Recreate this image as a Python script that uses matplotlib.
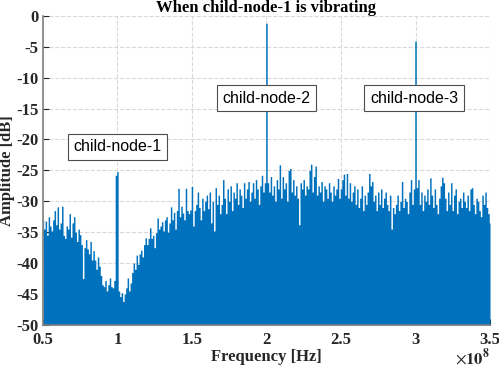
import numpy as np
import matplotlib
matplotlib.use('Agg')
import matplotlib.pyplot as plt

# 频率 (x 1e8 Hz), 步长 0.01
freq = np.round(np.arange(0.50, 3.505, 0.01), 2)

# 幅度 [dB]
amp = [
    -33.0, -34.5, -33.2, -35.5, -32.5, -34.0, -34.8, -33.0, -31.5, -33.8,
    -30.9, -34.5, -33.5, -30.8, -35.5, -36.0, -34.0, -34.5, -32.0, -35.8,
    -33.5, -32.5, -35.0, -36.5, -34.5, -35.4, -37.0, -42.5, -37.5, -36.2,
    -37.7, -38.5, -36.5, -39.5, -38.0, -39.5, -41.0, -39.0, -40.5, -42.0,
    -43.5, -43.8, -42.8, -44.5, -43.5, -42.4, -43.8, -44.0, -42.8, -25.8,
    -25.2, -44.5, -45.4, -44.8, -46.2, -45.0, -44.0, -42.4, -44.5, -43.2,
    -41.5, -40.0, -41.0, -38.7, -40.2, -38.5, -37.9, -39.0, -37.0, -35.9,
    -37.0, -36.0, -34.3, -36.0, -35.5, -37.5, -35.1, -32.7, -34.5, -34.0,
    -33.3, -34.8, -33.0, -32.5, -35.0, -33.5, -30.9, -33.0, -31.8, -34.5,
    -31.5, -27.9, -32.5, -30.8, -31.9, -33.0, -27.9, -31.5, -32.0, -31.4,
    -27.6, -34.0, -31.5, -30.5, -28.5, -31.0, -33.0, -29.5, -31.5, -30.0,
    -29.0, -31.2, -28.5, -33.5, -30.0, -34.8, -27.8, -30.5, -29.0, -32.0,
    -30.5, -26.5, -29.5, -32.0, -28.0, -30.0, -27.5, -31.5, -28.5, -29.5,
    -27.0, -30.5, -28.0, -29.0, -31.0, -27.0, -29.5, -28.0, -26.8, -30.0,
    -28.5, -27.0, -29.5, -26.5, -28.0, -30.5, -27.5, -25.8, -28.5, -27.0,
    -1.2, -27.0, -28.5, -26.0, -29.0, -27.5, -30.0, -26.5, -28.0, -24.1,
    -29.5, -26.0, -28.0, -27.0, -30.0, -25.0, -24.7, -28.5, -26.5, -29.0,
    -27.5, -29.5, -33.8, -27.0, -28.0, -26.5, -29.0, -27.5, -28.0, -25.0,
    -24.0, -28.5, -26.0, -24.3, -29.0, -27.5, -28.5, -26.8, -30.0, -27.5,
    -28.0, -29.5, -27.0, -28.5, -30.0, -27.5, -29.0, -28.0, -26.3, -29.5,
    -28.0, -26.5, -25.6, -29.0, -25.5, -29.5, -27.0, -30.0, -28.5, -27.5,
    -30.5, -28.0, -31.0, -29.5, -27.5, -31.5, -29.0, -30.5, -28.5, -25.5,
    -27.5, -26.8, -30.0, -29.0, -31.5, -28.5, -30.5, -28.0, -31.0, -29.5,
    -28.5, -30.5, -31.5, -29.0, -34.5, -31.0, -32.0, -30.5, -29.0, -31.5,
    -30.0, -26.8, -31.0, -29.5, -30.0, -32.0, -28.5, -26.5, -30.5, -28.0,
    -4.1, -27.8, -26.5, -30.5, -28.5, -31.5, -29.0, -30.0, -28.0, -30.5,
    -26.2, -29.0, -31.0, -28.0, -30.5, -32.0, -29.5, -27.5, -26.1, -27.0,
    -29.5, -31.5, -28.5, -30.5, -27.0, -31.5, -29.0, -28.0, -32.0, -30.0,
    -29.5, -31.0, -28.5, -30.0, -31.0, -29.0, -31.5, -28.0, -27.8, -30.5,
    -32.0, -29.5, -30.0, -31.5, -32.5, -29.0, -30.5, -28.5, -31.0, -32.0,
    -33.5,
]

node_labels = ['child-node-1', 'child-node-2', 'child-node-3']
node_pos = [(1.0, -21.2), (2.0, -13.35), (2.99, -13.35)]

plt.rcParams['font.family'] = ['Liberation Serif', 'DejaVu Serif']
plt.rcParams['mathtext.fontset'] = 'stix'
plt.rcParams['axes.unicode_minus'] = False

fig = plt.figure(figsize=(4.99, 3.68), dpi=100)
ax = fig.add_axes([0.086, 0.117, 0.896, 0.840])

ax.fill_between(freq, amp, -50, step='mid', color='#0072BD', lw=0)

ax.set_xlim(0.5, 3.5)
ax.set_ylim(-50, 0)
ax.set_xticks([0.5, 1, 1.5, 2, 2.5, 3, 3.5])
ax.set_xticklabels(['0.5', '1', '1.5', '2', '2.5', '3', '3.5'])
ax.set_yticks(np.arange(-50, 1, 5))

ax.grid(True, linestyle='--', color='#d9d9d9', linewidth=0.8)
ax.set_axisbelow(True)
for s in ['top', 'right']:
    ax.spines[s].set_visible(False)
for s in ['left', 'bottom']:
    ax.spines[s].set_color('#808080')
    ax.spines[s].set_linewidth(1.2)
ax.tick_params(direction='in', length=4, color='#262626', labelsize=12,
               labelcolor='#262626', pad=3)
ax.tick_params(axis='x', pad=5)
for lb in ax.get_xticklabels() + ax.get_yticklabels():
    lb.set_fontweight('bold')

ax.set_title('When child-node-1 is vibrating', fontsize=12, fontweight='bold', pad=2)
ax.set_xlabel('Frequency [Hz]', fontsize=12, fontweight='bold', color='#262626', labelpad=1)
ax.set_ylabel('Amplitude [dB]', fontsize=12, fontweight='bold', color='#262626')
ax.yaxis.set_label_coords(-0.062, 0.5)
ax.text(1.0, -0.075, r'$\times\mathbf{10^{8}}$', transform=ax.transAxes,
        ha='right', va='top', fontsize=12, color='#262626')

for lab, (x, y) in zip(node_labels, node_pos):
    ax.text(x, y, lab, ha='center', va='center', fontsize=11.5,
            family=['Liberation Sans', 'DejaVu Sans'],
            bbox=dict(boxstyle='square,pad=0.35', facecolor='white',
                      edgecolor='#4d4d4d', linewidth=0.8))

plt.savefig('out.png', dpi=100)
